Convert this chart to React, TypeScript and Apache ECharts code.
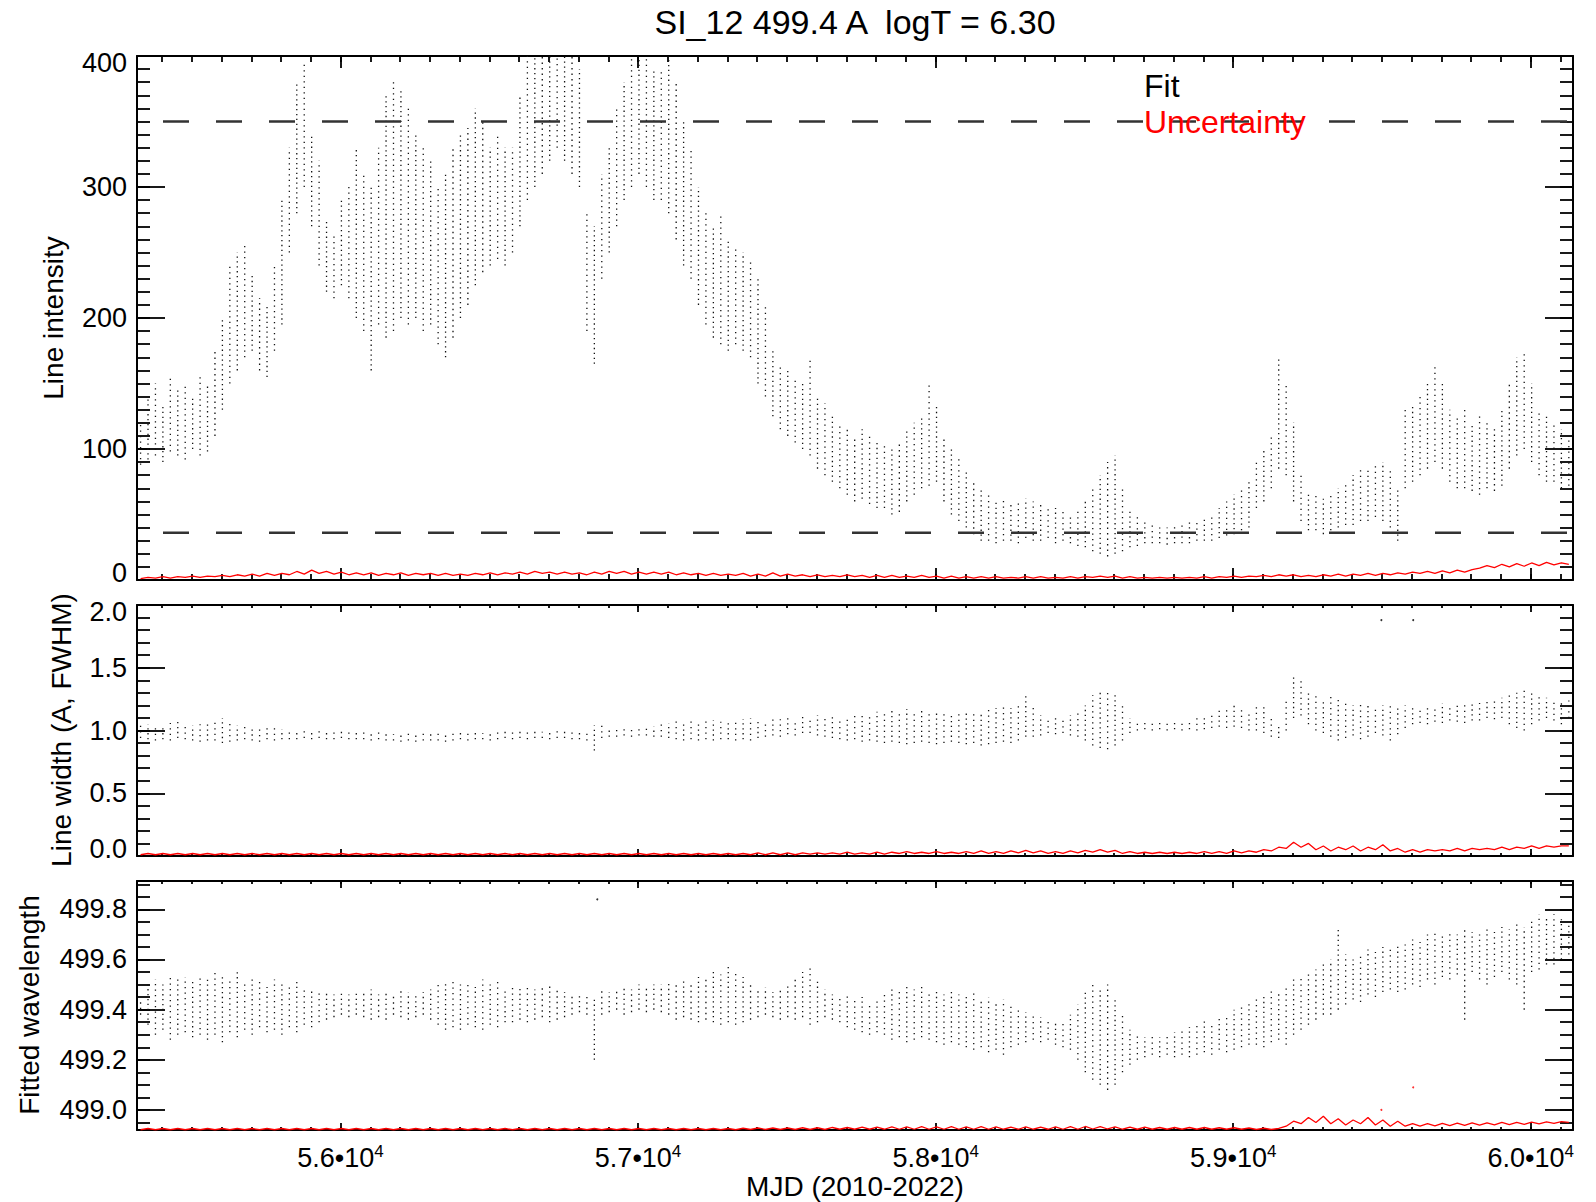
import React, { useEffect, useRef } from "react";
import * as echarts from "echarts";

const MJD_START = 55316;
const MJD_END = 60142;
const BIN_DAYS = 25;

const TITLE = "SI_12 499.4 A  logT = 6.30";
const X_NAME = "MJD (2010-2022)";
const Y_NAMES = ["Line intensity", "Line width (A, FWHM)", "Fitted wavelength"];
const LEGEND = ["Fit", "Uncertainty"];

const xMajorTicks = [56000, 57000, 58000, 59000, 60000];

// Panel 1: line intensity (range of the fitted values in each 25-day bin)
const intensityLow = [
  88, 92, 95, 90, 98, 95, 92, 100, 95, 98,
  110, 130, 150, 160, 170, 175, 160, 155, 175, 195,
  250, 280, 300, 270, 240, 220, 215, 225, 215, 200,
  190, 160, 195, 185, 190, 200, 195, 200, 190, 195,
  180, 170, 185, 200, 210, 225, 235, 240, 245, 240,
  250, 270, 290, 300, 310, 320, 330, 320, 310, 300,
  190, 165, 230, 250, 270, 290, 300, 310, 300, 290,
  290, 280, 260, 240, 230, 210, 195, 185, 180, 175,
  180, 175, 170, 150, 140, 125, 115, 110, 105, 100,
  95, 85, 80, 75, 70, 65, 60, 62, 58, 55,
  55, 50, 52, 60, 65, 70, 72, 75, 60, 50,
  45, 40, 35, 30, 30, 28, 30, 30, 28, 32,
  30, 30, 32, 28, 30, 28, 26, 25, 22, 20,
  18, 20, 22, 25, 26, 28, 28, 28, 27, 28,
  28, 28, 30, 30, 30, 32, 34, 35, 38, 40,
  55, 60, 70, 85, 80, 60, 45, 38, 38, 35,
  38, 40, 42, 42, 45, 45, 48, 45, 40, 30,
  70, 75, 80, 85, 90, 85, 75, 70, 70, 68,
  65, 70, 68, 72, 85, 95, 100, 90, 80, 75,
  75, 70, 72,
];
const intensityHigh = [
  120, 140, 150, 135, 155, 145, 150, 140, 155, 150,
  175, 200, 240, 250, 255, 235, 215, 210, 240, 290,
  330, 380, 395, 340, 320, 275, 265, 290, 300, 330,
  310, 300, 330, 370, 380, 375, 360, 340, 330, 320,
  300, 310, 330, 340, 345, 360, 350, 330, 340, 330,
  330, 370, 400, 400, 400, 400, 400, 400, 400, 390,
  280, 270, 310, 330, 360, 380, 400, 400, 400, 390,
  390, 400, 380, 350, 330, 300, 280, 270, 280, 260,
  255, 250, 245, 230, 210, 175, 165, 160, 155, 150,
  170, 140, 135, 125, 120, 115, 110, 115, 110, 105,
  105, 100, 105, 115, 120, 125, 150, 135, 110, 100,
  95, 85, 75, 70, 65, 60, 62, 58, 60, 62,
  60, 58, 55, 55, 52, 50, 55, 60, 70, 80,
  90, 95, 70, 55, 50, 45, 42, 40, 40, 42,
  42, 45, 45, 48, 50, 55, 60, 65, 70, 75,
  90, 100, 110, 170, 150, 120, 80, 65, 65, 62,
  65, 70, 75, 80, 85, 85, 90, 90, 85, 70,
  130, 135, 140, 150, 165, 150, 130, 125, 130, 120,
  125, 120, 115, 130, 150, 170, 175, 150, 130, 125,
  120, 115, 110,
];
const intensityErr = [
  1, 2, 1.5, 2.5, 1.5, 2.5, 2, 3, 2, 3,
  2.5, 3.5, 2.5, 4, 3, 4.5, 3, 5, 3.5, 5,
  4, 6.5, 4.5, 7.5, 5, 6.5, 4.5, 6, 4, 5.5,
  4, 5.5, 3.5, 5, 4, 5.5, 3.5, 5, 4, 5,
  3.5, 5, 3.5, 4.5, 3.5, 5, 4, 5.5, 4, 5.5,
  4.5, 6, 4.5, 6.5, 5, 6, 4.5, 6, 4.5, 5.5,
  4, 6, 4.5, 6.5, 5, 6.5, 4.5, 6, 4.5, 6,
  4.5, 6, 4, 5.5, 4, 5, 3.5, 5, 3.5, 4.5,
  3.5, 5, 3, 4.5, 3, 5.5, 3, 4.5, 3, 4,
  2.5, 4, 2.5, 3.5, 2.5, 4, 2.5, 3.5, 2, 3.5,
  2, 3.5, 2, 3, 2, 3.5, 2, 3, 1.5, 3,
  1.5, 2.5, 1.5, 2.5, 1.5, 2.5, 1.5, 2, 1.5, 2.5,
  1.5, 2.5, 1.5, 2, 1.5, 2.5, 1.5, 2.5, 2, 3,
  2, 3, 1.5, 2.5, 1.5, 2, 1.5, 2, 1.5, 2,
  1.5, 2, 1.5, 2.5, 1.5, 2.5, 2, 3, 2, 3,
  2.5, 3.5, 2.5, 4, 3, 4, 2.5, 3.5, 2.5, 4,
  3, 4.5, 3, 4.5, 3.5, 5, 3.5, 5, 4, 5.5,
  4.5, 6, 5, 6.5, 5, 7, 5.5, 7.5, 6, 8,
  9, 11, 9.5, 12, 10, 12.5, 10.5, 13, 11, 13.5,
  11.5, 13, 12,
];
const intensityLimits = [350, 36];

// Panel 2: line width
const widthLow = [
  0.94, 0.93, 0.92, 0.93, 0.92, 0.94, 0.93, 0.92, 0.91, 0.92,
  0.92, 0.90, 0.91, 0.92, 0.93, 0.92, 0.91, 0.93, 0.92, 0.93,
  0.93, 0.93, 0.94, 0.93, 0.94, 0.93, 0.93, 0.94, 0.93, 0.93,
  0.93, 0.92, 0.93, 0.92, 0.92, 0.91, 0.92, 0.91, 0.92, 0.92,
  0.92, 0.91, 0.92, 0.93, 0.92, 0.93, 0.93, 0.92, 0.93, 0.94,
  0.93, 0.94, 0.93, 0.94, 0.94, 0.93, 0.94, 0.94, 0.93, 0.93,
  0.92, 0.84, 0.94, 0.95, 0.95, 0.96, 0.95, 0.96, 0.96, 0.95,
  0.95, 0.94, 0.93, 0.92, 0.93, 0.92, 0.93, 0.92, 0.93, 0.93,
  0.92, 0.93, 0.92, 0.94, 0.95, 0.96, 0.95, 0.97, 0.96, 0.98,
  0.98, 0.96, 0.95, 0.94, 0.93, 0.92, 0.93, 0.91, 0.92, 0.91,
  0.90, 0.91, 0.90, 0.89, 0.90, 0.91, 0.90, 0.89, 0.90, 0.91,
  0.90, 0.89, 0.90, 0.88, 0.89, 0.90, 0.91, 0.90, 0.92, 0.95,
  0.95, 0.96, 0.98, 0.97, 0.98, 0.96, 0.95, 0.92, 0.88, 0.86,
  0.85, 0.88, 0.92, 0.98, 1.00, 1.01, 1.00, 1.01, 1.00, 1.01,
  1.00, 1.01, 1.00, 1.01, 1.02, 1.03, 1.02, 1.03, 1.02, 1.00,
  1.00, 0.98, 0.95, 0.94, 1.00, 1.10, 1.12, 1.05, 1.00, 0.98,
  0.95, 0.92, 0.94, 0.96, 0.93, 0.95, 0.98, 0.96, 0.92, 0.97,
  1.02, 1.05, 1.06, 1.05, 1.07, 1.06, 1.08, 1.07, 1.06, 1.08,
  1.08, 1.10, 1.09, 1.10, 1.05, 1.02, 1.00, 1.05, 1.08, 1.10,
  1.08, 1.05, 1.10,
];
const widthHigh = [
  1.04, 1.05, 1.03, 1.04, 1.06, 1.08, 1.05, 1.04, 1.05, 1.07,
  1.08, 1.10, 1.06, 1.04, 1.03, 1.02, 1.03, 1.02, 1.02, 1.01,
  1.01, 1.00, 1.00, 0.99, 1.00, 0.99, 0.99, 1.00, 0.99, 0.99,
  0.99, 0.98, 0.99, 0.98, 0.97, 0.97, 0.98, 0.97, 0.98, 0.98,
  0.98, 0.97, 0.99, 0.99, 0.98, 0.99, 0.98, 0.99, 0.99, 1.00,
  0.99, 1.00, 0.99, 1.00, 0.99, 0.99, 1.00, 0.99, 0.99, 1.00,
  0.99, 1.04, 1.04, 1.02, 1.01, 1.02, 1.02, 1.02, 1.03, 1.03,
  1.05, 1.06, 1.08, 1.07, 1.08, 1.07, 1.08, 1.08, 1.07, 1.08,
  1.08, 1.09, 1.10, 1.09, 1.08, 1.10, 1.09, 1.10, 1.09, 1.12,
  1.10, 1.12, 1.10, 1.11, 1.09, 1.10, 1.12, 1.14, 1.12, 1.15,
  1.15, 1.16, 1.14, 1.17, 1.15, 1.16, 1.15, 1.16, 1.14, 1.13,
  1.14, 1.15, 1.16, 1.15, 1.17, 1.18, 1.20, 1.18, 1.22, 1.30,
  1.20, 1.12, 1.10, 1.12, 1.10, 1.12, 1.14, 1.20, 1.28, 1.30,
  1.32, 1.28, 1.20, 1.10, 1.08, 1.07, 1.08, 1.07, 1.08, 1.07,
  1.07, 1.08, 1.10, 1.12, 1.15, 1.16, 1.18, 1.20, 1.18, 1.15,
  1.22, 1.20, 1.10, 1.05, 1.25, 1.45, 1.40, 1.30, 1.28, 1.25,
  1.28, 1.25, 1.22, 1.20, 1.22, 1.20, 1.18, 1.20, 1.22, 1.18,
  1.20, 1.20, 1.18, 1.19, 1.20, 1.22, 1.20, 1.22, 1.21, 1.22,
  1.22, 1.24, 1.25, 1.26, 1.28, 1.30, 1.35, 1.30, 1.28, 1.26,
  1.25, 1.22, 1.24,
];
const widthErr = [
  0.01, 0.02, 0.01, 0.02, 0.01, 0.02, 0.01, 0.02, 0.01, 0.02,
  0.01, 0.02, 0.01, 0.02, 0.01, 0.02, 0.01, 0.02, 0.01, 0.02,
  0.01, 0.02, 0.01, 0.02, 0.01, 0.02, 0.01, 0.02, 0.01, 0.02,
  0.01, 0.02, 0.01, 0.02, 0.01, 0.02, 0.01, 0.02, 0.01, 0.02,
  0.01, 0.02, 0.01, 0.02, 0.01, 0.02, 0.01, 0.02, 0.01, 0.02,
  0.01, 0.02, 0.01, 0.02, 0.01, 0.02, 0.01, 0.02, 0.01, 0.02,
  0.01, 0.02, 0.01, 0.02, 0.01, 0.02, 0.01, 0.02, 0.01, 0.02,
  0.01, 0.02, 0.01, 0.02, 0.01, 0.02, 0.01, 0.02, 0.01, 0.02,
  0.01, 0.02, 0.01, 0.025, 0.01, 0.025, 0.01, 0.025, 0.01, 0.025,
  0.015, 0.025, 0.015, 0.025, 0.015, 0.03, 0.015, 0.025, 0.015, 0.03,
  0.015, 0.03, 0.02, 0.035, 0.02, 0.03, 0.02, 0.035, 0.02, 0.03,
  0.02, 0.035, 0.02, 0.04, 0.02, 0.035, 0.02, 0.04, 0.025, 0.045,
  0.025, 0.04, 0.02, 0.035, 0.02, 0.04, 0.025, 0.045, 0.03, 0.05,
  0.03, 0.045, 0.02, 0.035, 0.02, 0.03, 0.02, 0.03, 0.02, 0.03,
  0.02, 0.03, 0.02, 0.035, 0.02, 0.035, 0.02, 0.04, 0.025, 0.04,
  0.03, 0.05, 0.04, 0.07, 0.06, 0.11, 0.07, 0.10, 0.05, 0.08,
  0.04, 0.07, 0.05, 0.08, 0.04, 0.07, 0.05, 0.09, 0.04, 0.06,
  0.03, 0.05, 0.03, 0.05, 0.04, 0.05, 0.04, 0.06, 0.04, 0.06,
  0.05, 0.06, 0.05, 0.07, 0.05, 0.07, 0.06, 0.08, 0.06, 0.08,
  0.07, 0.08, 0.08,
];
const widthOutliers = [
  [59498, 1.88],
  [59605, 1.88],
];

// Panel 3: fitted wavelength
const waveLow = [
  499.38, 499.34, 499.30, 499.32, 499.28, 499.30, 499.31, 499.29, 499.30, 499.28,
  499.30, 499.27, 499.31, 499.29, 499.32, 499.30, 499.33, 499.31, 499.32, 499.30,
  499.33, 499.31, 499.34, 499.33, 499.35, 499.36, 499.37, 499.38, 499.37, 499.38,
  499.37, 499.36, 499.37, 499.36, 499.38, 499.37, 499.36, 499.37, 499.38, 499.36,
  499.34, 499.32, 499.33, 499.32, 499.34, 499.33, 499.32, 499.34, 499.33, 499.35,
  499.35, 499.36, 499.35, 499.36, 499.37, 499.35, 499.36, 499.37, 499.38, 499.39,
  499.38, 499.20, 499.38, 499.39, 499.40, 499.38, 499.39, 499.40, 499.39, 499.40,
  499.39, 499.38, 499.36, 499.37, 499.36, 499.35, 499.36, 499.35, 499.34, 499.35,
  499.34, 499.35, 499.36, 499.37, 499.38, 499.37, 499.36, 499.37, 499.36, 499.37,
  499.34, 499.35, 499.37, 499.36, 499.35, 499.33, 499.32, 499.31, 499.30, 499.31,
  499.30, 499.28, 499.29, 499.27, 499.28, 499.29, 499.28, 499.27, 499.26, 499.27,
  499.26, 499.25, 499.24, 499.25, 499.23, 499.24, 499.22, 499.25, 499.26, 499.27,
  499.28, 499.27, 499.28, 499.26, 499.25, 499.24, 499.20, 499.15, 499.12, 499.10,
  499.08, 499.10, 499.15, 499.18, 499.20, 499.21, 499.22, 499.21, 499.22, 499.21,
  499.22, 499.21, 499.22, 499.23, 499.22, 499.24, 499.23, 499.24, 499.25, 499.26,
  499.26, 499.25, 499.27, 499.28, 499.26, 499.30, 499.32, 499.34, 499.36, 499.38,
  499.38, 499.40, 499.42, 499.44, 499.43, 499.46, 499.45, 499.47, 499.48, 499.47,
  499.48, 499.50, 499.49, 499.52, 499.50, 499.53, 499.52, 499.54, 499.36, 499.55,
  499.52, 499.50, 499.53, 499.55, 499.52, 499.50, 499.40, 499.55, 499.56, 499.58,
  499.58, 499.60, 499.62,
];
const waveHigh = [
  499.43, 499.50, 499.52, 499.50, 499.54, 499.52, 499.53, 499.51, 499.54, 499.52,
  499.55, 499.53, 499.52, 499.55, 499.50, 499.53, 499.51, 499.49, 499.52, 499.50,
  499.50, 499.51, 499.49, 499.48, 499.47, 499.47, 499.46, 499.47, 499.46, 499.47,
  499.47, 499.48, 499.46, 499.47, 499.46, 499.48, 499.47, 499.46, 499.47, 499.48,
  499.50, 499.51, 499.52, 499.50, 499.51, 499.49, 499.52, 499.50, 499.51, 499.48,
  499.50, 499.49, 499.50, 499.48, 499.49, 499.50, 499.48, 499.47, 499.46, 499.46,
  499.45, 499.45, 499.48, 499.47, 499.48, 499.49, 499.48, 499.50, 499.49, 499.50,
  499.50, 499.51, 499.50, 499.52, 499.51, 499.53, 499.52, 499.55, 499.54, 499.58,
  499.55, 499.53, 499.50, 499.48, 499.49, 499.47, 499.48, 499.50, 499.52, 499.55,
  499.58, 499.52, 499.48, 499.46, 499.45, 499.46, 499.44, 499.45, 499.43, 499.44,
  499.46, 499.48, 499.47, 499.50, 499.48, 499.49, 499.47, 499.48, 499.46, 499.47,
  499.46, 499.45, 499.47, 499.44, 499.45, 499.43, 499.44, 499.42, 499.40, 499.39,
  499.38, 499.37, 499.36, 499.35, 499.36, 499.38, 499.42, 499.48, 499.50, 499.48,
  499.50, 499.45, 499.38, 499.32, 499.30, 499.29, 499.30, 499.29, 499.30, 499.31,
  499.32, 499.33, 499.34, 499.36, 499.35, 499.37, 499.38, 499.40, 499.42, 499.43,
  499.45, 499.46, 499.48, 499.47, 499.50, 499.52, 499.53, 499.55, 499.56, 499.58,
  499.60, 499.72, 499.62, 499.60, 499.62, 499.64, 499.63, 499.65, 499.64, 499.66,
  499.66, 499.68, 499.67, 499.70, 499.72, 499.70, 499.71, 499.70, 499.72, 499.71,
  499.70, 499.72, 499.71, 499.73, 499.72, 499.74, 499.73, 499.76, 499.78, 499.77,
  499.78, 499.76, 499.75,
];
const waveErrOffset = [
  0.001, 0.006, 0.001, 0.006, 0.001, 0.006, 0.001, 0.006, 0.001, 0.006,
  0.001, 0.006, 0.001, 0.006, 0.001, 0.006, 0.001, 0.006, 0.001, 0.006,
  0.001, 0.006, 0.001, 0.006, 0.001, 0.006, 0.001, 0.006, 0.001, 0.006,
  0.001, 0.006, 0.001, 0.006, 0.001, 0.006, 0.001, 0.006, 0.001, 0.006,
  0.001, 0.006, 0.001, 0.006, 0.001, 0.006, 0.001, 0.006, 0.001, 0.006,
  0.001, 0.006, 0.001, 0.006, 0.001, 0.006, 0.001, 0.006, 0.001, 0.006,
  0.001, 0.006, 0.001, 0.006, 0.001, 0.006, 0.001, 0.006, 0.001, 0.006,
  0.001, 0.006, 0.001, 0.006, 0.001, 0.006, 0.001, 0.006, 0.001, 0.006,
  0.001, 0.007, 0.002, 0.008, 0.002, 0.008, 0.002, 0.008, 0.002, 0.009,
  0.002, 0.009, 0.002, 0.010, 0.003, 0.010, 0.003, 0.011, 0.003, 0.011,
  0.003, 0.012, 0.003, 0.012, 0.003, 0.013, 0.003, 0.012, 0.003, 0.013,
  0.003, 0.012, 0.003, 0.013, 0.003, 0.012, 0.003, 0.011, 0.003, 0.012,
  0.003, 0.011, 0.003, 0.012, 0.003, 0.013, 0.003, 0.014, 0.004, 0.013,
  0.004, 0.012, 0.003, 0.011, 0.003, 0.011, 0.003, 0.010, 0.003, 0.010,
  0.003, 0.010, 0.003, 0.010, 0.003, 0.009, 0.003, 0.009, 0.003, 0.008,
  0.002, 0.007, 0.002, 0.006, 0.015, 0.035, 0.025, 0.050, 0.030, 0.055,
  0.025, 0.045, 0.020, 0.040, 0.025, 0.050, 0.020, 0.040, 0.015, 0.035,
  0.015, 0.025, 0.015, 0.025, 0.016, 0.026, 0.017, 0.027, 0.018, 0.028,
  0.019, 0.028, 0.020, 0.030, 0.021, 0.030, 0.022, 0.031, 0.024, 0.032,
  0.026, 0.033, 0.030,
];
const waveBase = 498.92;
const waveOutliers = [[56863, 499.84]];
const waveErrOutliers = [
  [59498, 499.0],
  [59605, 499.09],
];

const FONT = "'Liberation Sans', Arial, Helvetica, sans-serif";

const binCenters = intensityLow.map((_, i) => MJD_START + 12 + BIN_DAYS * i);

function range(a: number, b: number, step: number, dec: number) {
  const out: number[] = [];
  const n = Math.round((b - a) / step);
  for (let k = 0; k <= n; k++) out.push(Number((a + k * step).toFixed(dec)));
  return out;
}

const xMinorTicks = range(55400, 60100, 100, 0);

const panels = [
  {
    top: 56, height: 524, min: 0, max: 400,
    majors: [0, 100, 200, 300, 400], minors: range(0, 400, 10, 0),
    dec: 0, endShift: true, xMajorLen: 12, xMinorLen: 6,
  },
  {
    top: 605, height: 251, min: 0, max: 2.0,
    majors: [0, 0.5, 1.0, 1.5, 2.0], minors: range(0, 2.0, 0.1, 1),
    dec: 1, endShift: true, xMajorLen: 7, xMinorLen: 3,
  },
  {
    top: 881, height: 249, min: 498.92, max: 499.913,
    majors: [499.0, 499.2, 499.4, 499.6, 499.8], minors: range(498.95, 499.9, 0.05, 2),
    dec: 1, endShift: false, xMajorLen: 7, xMinorLen: 3,
  },
];

function buildOption() {
  const grids: any[] = [];
  const xAxes: any[] = [];
  const yAxes: any[] = [];
  const mainX: number[] = [];
  const mainY: number[] = [];
  const axisLineStyle = { color: "#000", width: 2 };
  const tickStyle = { color: "#000", width: 1.8 };

  panels.forEach((p, g) => {
    grids.push({ left: 137, top: p.top, width: 1436, height: p.height, containLabel: false });
    const isBottom = g === 2;
    (["bottom", "top"] as const).forEach((pos) => {
      if (pos === "bottom") mainX.push(xAxes.length);
      xAxes.push({
        type: "value", gridIndex: g, position: pos, min: MJD_START, max: MJD_END,
        axisLine: { show: true, onZero: false, lineStyle: axisLineStyle },
        axisTick: { show: true, inside: true, length: p.xMajorLen, customValues: xMajorTicks, lineStyle: tickStyle },
        axisLabel: {
          show: isBottom && pos === "bottom",
          customValues: xMajorTicks,
          margin: 13,
          formatter: (v: number) => `{a|${(v / 1e4).toFixed(1)}•10}{s|4}`,
          rich: {
            a: { fontFamily: FONT, fontSize: 27, color: "#000", lineHeight: 30 },
            s: { fontFamily: FONT, fontSize: 17, color: "#000", lineHeight: 17, verticalAlign: "top" },
          },
        },
        splitLine: { show: false },
      });
      xAxes.push({
        type: "value", gridIndex: g, position: pos, min: MJD_START, max: MJD_END,
        axisLine: { show: false, onZero: false },
        axisTick: { show: true, inside: true, length: p.xMinorLen, customValues: xMinorTicks, lineStyle: tickStyle },
        axisLabel: { show: false },
        splitLine: { show: false },
      });
    });
    (["left", "right"] as const).forEach((pos) => {
      if (pos === "left") mainY.push(yAxes.length);
      yAxes.push({
        type: "value", gridIndex: g, position: pos, min: p.min, max: p.max,
        axisLine: { show: true, onZero: false, lineStyle: axisLineStyle },
        axisTick: { show: true, inside: true, length: 28, customValues: p.majors, lineStyle: tickStyle },
        axisLabel: {
          show: pos === "left",
          customValues: p.majors,
          margin: 10,
          formatter: (v: number) => {
            const t = v.toFixed(p.dec);
            if (p.endShift && Math.abs(v - p.max) < 1e-6) return `{t|${t}}`;
            if (p.endShift && Math.abs(v - p.min) < 1e-6) return `{b|${t}}`;
            return `{n|${t}}`;
          },
          rich: {
            n: { fontFamily: FONT, fontSize: 27, color: "#000" },
            t: { fontFamily: FONT, fontSize: 27, color: "#000", padding: [14, 0, 0, 0] },
            b: { fontFamily: FONT, fontSize: 27, color: "#000", padding: [0, 0, 14, 0] },
          },
        },
        splitLine: { show: false },
      });
      yAxes.push({
        type: "value", gridIndex: g, position: pos, min: p.min, max: p.max,
        axisLine: { show: false, onZero: false },
        axisTick: { show: true, inside: true, length: 13, customValues: p.minors, lineStyle: tickStyle },
        axisLabel: { show: false },
        splitLine: { show: false },
      });
    });
  });

  const rangeSeries = (g: number, low: number[], high: number[]) => ({
    type: "custom",
    xAxisIndex: mainX[g],
    yAxisIndex: mainY[g],
    data: binCenters.map((x, i) => [x, low[i], high[i]]),
    encode: { x: 0, y: [1, 2] },
    renderItem: (params: any, api: any) => {
      const a = api.coord([api.value(0), api.value(1)]);
      const b = api.coord([api.value(0), api.value(2)]);
      const gap = params.dataIndex % 2 === 0 ? 4.2 : 3.6;
      return {
        type: "line",
        shape: { x1: a[0], y1: a[1], x2: b[0], y2: b[1] },
        style: { stroke: "#111", lineWidth: 1.3, lineDash: [1.3, gap] },
      };
    },
    z: 2,
  });

  const errSeries = (g: number, vals: number[]) => ({
    type: "line",
    xAxisIndex: mainX[g],
    yAxisIndex: mainY[g],
    data: binCenters.map((x, i) => [x, vals[i]]),
    showSymbol: false,
    symbol: "none",
    lineStyle: { color: "#ff0000", width: 1.3 },
    z: 3,
  });

  const series: any[] = [
    rangeSeries(0, intensityLow, intensityHigh),
    errSeries(0, intensityErr),
    ...intensityLimits.map((v) => ({
      type: "line",
      xAxisIndex: mainX[0],
      yAxisIndex: mainY[0],
      data: [[MJD_START, v], [MJD_END, v]],
      symbol: "none",
      lineStyle: { color: "#333", width: 2.5, type: [26, 27], dashOffset: 27 },
      z: 4,
    })),
    rangeSeries(1, widthLow, widthHigh),
    errSeries(1, widthErr),
    {
      type: "scatter", xAxisIndex: mainX[1], yAxisIndex: mainY[1],
      data: widthOutliers, symbolSize: 2, itemStyle: { color: "#000" },
    },
    rangeSeries(2, waveLow, waveHigh),
    errSeries(2, waveErrOffset.map((d) => waveBase + d)),
    {
      type: "scatter", xAxisIndex: mainX[2], yAxisIndex: mainY[2],
      data: waveOutliers, symbolSize: 2, itemStyle: { color: "#000" },
    },
    {
      type: "scatter", xAxisIndex: mainX[2], yAxisIndex: mainY[2],
      data: waveErrOutliers, symbolSize: 2, itemStyle: { color: "#ff0000" },
    },
  ];

  const graphic: any[] = [
    { type: "text", x: 855, y: 22, style: { text: TITLE, fontFamily: FONT, fontSize: 34, fill: "#000", align: "center", verticalAlign: "middle" } },
    { type: "text", x: 855, y: 1186, style: { text: X_NAME, fontFamily: FONT, fontSize: 28, fill: "#000", align: "center", verticalAlign: "middle" } },
    { type: "text", x: 53, y: 318, rotation: Math.PI / 2, style: { text: Y_NAMES[0], fontFamily: FONT, fontSize: 28, fill: "#000", align: "center", verticalAlign: "middle" } },
    { type: "text", x: 61, y: 730, rotation: Math.PI / 2, style: { text: Y_NAMES[1], fontFamily: FONT, fontSize: 28, fill: "#000", align: "center", verticalAlign: "middle" } },
    { type: "text", x: 29, y: 1005, rotation: Math.PI / 2, style: { text: Y_NAMES[2], fontFamily: FONT, fontSize: 28, fill: "#000", align: "center", verticalAlign: "middle" } },
    { type: "text", x: 1144, y: 86, style: { text: LEGEND[0], fontFamily: FONT, fontSize: 32, fill: "#000", align: "left", verticalAlign: "middle" }, z: 10 },
    { type: "text", x: 1144, y: 122, style: { text: LEGEND[1], fontFamily: FONT, fontSize: 32, fill: "#ff0000", align: "left", verticalAlign: "middle" }, z: 10 },
  ];

  return {
    animation: false,
    backgroundColor: "#fff",
    grid: grids,
    xAxis: xAxes,
    yAxis: yAxes,
    series,
    graphic,
  };
}

export default function App() {
  const ref = useRef<HTMLDivElement>(null);
  useEffect(() => {
    document.body.style.margin = "0";
    const chart = echarts.init(ref.current!, undefined, { renderer: "svg" });
    chart.setOption(buildOption() as any);
    return () => chart.dispose();
  }, []);
  return <div ref={ref} style={{ width: 1596, height: 1202 }} />;
}
